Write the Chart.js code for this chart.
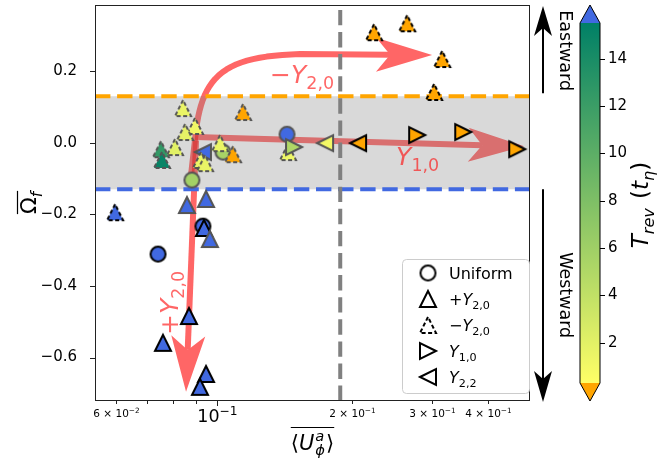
<!DOCTYPE html>
<html>
<head>
<meta charset="utf-8">
<script src="https://cdn.jsdelivr.net/npm/chart.js@4"></script>
<style>
  html, body { margin: 0; padding: 0; background: #fff; }
  canvas { display: block; }
</style>
</head>
<body>
<canvas id="c" width="665" height="466"></canvas>
<script>
// ---- axes ----
const X_MIN = 0.0538, X_MAX = 0.495;
const Y_MIN = -0.7215, Y_MAX = 0.385;
const X_TICKS = [0.06, 0.07, 0.08, 0.09, 0.1, 0.2, 0.3, 0.4];
// tick label: [mantissa or '', exponent]
const X_TICK_LABELS = { 0.06: ['6', '−2'], 0.1: ['', '−1'], 0.2: ['2', '−1'], 0.3: ['3', '−1'], 0.4: ['4', '−1'] };
const Y_TICKS = [-0.6, -0.4, -0.2, 0, 0.2];

// ---- colour scale for the reversal time ----
const T_MIN = 0.3, T_MAX = 15.5;
const CBAR_TICKS = [2, 4, 6, 8, 10, 12, 14];

// ---- reference levels ----
const BAND = 0.13;          // |Omega_f| threshold
const U_TRANSITION = 0.188; // transition velocity

// ---- runs (U = <U_phi^a>, W = Omega_f, T = T_rev; T above T_MAX: no reversal) ----
// edge: 'k' black, 'g' grey
const uniformU = [0.0742, 0.0933, 0.1433, 0.1034, 0.0882];
const uniformW = [-0.311, -0.233, 0.024, -0.026, -0.104];
const uniformT = [20, 20, 20, 5.5, 5.8];
const uniformE = ['k', 'k', 'g', 'g', 'g'];

const y22U = [0.0933, 0.1740, 0.2059];
const y22W = [-0.026, -0.001, -0.001];
const y22T = [20, 1.0, 0.2];
const y22E = ['g', 'g', 'k'];

const negY20U = [0.2234, 0.2645, 0.3162, 0.3035, 0.0843, 0.1145, 0.0896, 0.0852, 0.0809, 0.0753, 0.0757, 0.1018, 0.1088, 0.0924, 0.0943, 0.1440, 0.0596];
const negY20W = [0.309, 0.334, 0.234, 0.142, 0.097, 0.086, 0.047, 0.030, -0.012, -0.018, -0.048, -0.001, -0.032, -0.048, -0.057, -0.026, -0.194];
const negY20T = [0.2, 0.2, 0.2, 0.2, 1.5, 0.2, 1.2, 1.8, 2.0, 12.5, 15.0, 1.5, 0.2, 1.4, 1.6, 1.3, 20];
const negY20E = ['k', 'k', 'k', 'k', 'g', 'g', 'g', 'g', 'g', 'g', 'g', 'g', 'g', 'g', 'g', 'g', 'k'];

const posY20U = [0.0860, 0.0948, 0.0938, 0.0967, 0.0869, 0.0761, 0.0948, 0.0919];
const posY20W = [-0.174, -0.157, -0.238, -0.269, -0.484, -0.559, -0.646, -0.682];
const posY20T = [20, 20, 20, 20, 20, 20, 20, 20];
const posY20E = ['g', 'g', 'k', 'g', 'k', 'k', 'k', 'k'];

const y10U = [0.1485, 0.2783, 0.3521, 0.4637];
const y10W = [-0.012, 0.0215, 0.030, -0.018];
const y10T = [5.0, 0.2, 0.2, 0.2];
const y10E = ['g', 'k', 'k', 'k'];

// ---- guide arrows, in (U, Omega_f) ----
const ARROW_NEG_Y20 = [[0.0873, -0.118], [0.0901, 0.035], [0.0933, 0.189], [0.1044, 0.242], [0.1531, 0.248], [0.3004, 0.245]];
const ARROW_Y10 = [[0.0896, 0.016], [0.4806, -0.010]];
const ARROW_POS_Y20 = [[0.0901, 0.007], [0.0856, -0.696]];
const LABEL_NEG_Y20 = [0.1314, 0.168];
const LABEL_Y10 = [0.25, -0.062];
const LABEL_POS_Y20 = [0.0821, -0.537];

const FONT = "'DejaVu Sans', sans-serif";
const ARROW_RGB = '255,0,0';
const ARROW_ALPHA = 0.6;

Chart.defaults.font.family = FONT;
Chart.defaults.color = '#000';

function tColor(T) {
  if (T < T_MIN) return '#ffa500';
  if (T > T_MAX) return '#4169e1';
  const v = (T - T_MIN) / (T_MAX - T_MIN);
  const r = Math.round(255 * (1 - v));
  const g = Math.round(255 * (0.5 + 0.5 * (1 - v)));
  return `rgb(${r},${g},102)`;
}

const markerCache = {};
function marker(kind, fill, edge, dashed) {
  const key = [kind, fill, edge, dashed].join('|');
  if (markerCache[key]) return markerCache[key];
  const S = kind === 'o' ? 15 : 16, pad = 3;
  const n = S + 2 * pad;
  const c = document.createElement('canvas');
  c.width = c.height = n;
  const g = c.getContext('2d');
  shapePath(g, kind, n / 2, n / 2, S / 2);
  if (fill) { g.fillStyle = fill; g.fill(); }
  g.lineWidth = 2; g.strokeStyle = edge; g.lineJoin = 'miter';
  if (dashed) g.setLineDash([4, 2.5]);
  g.stroke();
  markerCache[key] = c;
  return c;
}
function shapePath(g, kind, m, k, h) {
  g.beginPath();
  if (kind === 'o') g.arc(m, k, h, 0, 2 * Math.PI);
  else if (kind === '^') { g.moveTo(m, k - h); g.lineTo(m - h, k + h); g.lineTo(m + h, k + h); g.closePath(); }
  else if (kind === '>') { g.moveTo(m + h, k); g.lineTo(m - h, k - h); g.lineTo(m - h, k + h); g.closePath(); }
  else if (kind === '<') { g.moveTo(m - h, k); g.lineTo(m + h, k - h); g.lineTo(m + h, k + h); g.closePath(); }
}

function series(kind, U, W, T, E, dashed, order) {
  return {
    data: U.map((u, i) => ({ x: u, y: W[i] })),
    pointStyle: (ctx) => ctx.dataIndex === undefined ? 'circle'
      : marker(kind, tColor(T[ctx.dataIndex]), E[ctx.dataIndex] === 'k' ? '#000' : '#555', dashed),
    pointRadius: 9,
    pointHoverRadius: 9,
    order
  };
}

// ---- text helpers ----
function drawRuns(g, runs, x, y, size, align) {
  const parts = [];
  let w = 0;
  for (const r of runs) {
    const s = (r.sub || r.sup) ? size * 0.7 : size;
    const f = (r.it ? 'italic ' : '') + s + 'px ' + FONT;
    g.font = f;
    const mw = g.measureText(r.t).width;
    parts.push({ t: r.t, f, x: w, dy: r.sub ? size * 0.25 : r.sup ? -size * 0.42 : 0 });
    if (!r.noadv) w += mw + (r.gap || 0);
  }
  const x0 = align === 'center' ? x - w / 2 : align === 'right' ? x - w : x;
  g.textBaseline = 'alphabetic'; g.textAlign = 'left';
  for (const p of parts) { g.font = p.f; g.fillText(p.t, x0 + p.x, y + p.dy); }
  return { x0, w };
}

function drawArrow(g, poly, L, W, N, lw) {
  const n = poly.length, tip = poly[n - 1];
  let k = n - 2;
  while (k > 0 && Math.hypot(tip[0] - poly[k][0], tip[1] - poly[k][1]) < L) k--;
  const dx = tip[0] - poly[k][0], dy = tip[1] - poly[k][1];
  const d = Math.hypot(dx, dy), ux = dx / d, uy = dy / d, nx = -uy, ny = ux;
  const bx = tip[0] - ux * L, by = tip[1] - uy * L;
  const qx = tip[0] - ux * (L - N), qy = tip[1] - uy * (L - N);
  g.lineWidth = lw; g.lineCap = 'butt'; g.lineJoin = 'round';
  g.beginPath(); g.moveTo(poly[0][0], poly[0][1]);
  for (let i = 1; i <= k; i++) g.lineTo(poly[i][0], poly[i][1]);
  g.lineTo(qx, qy); g.stroke();
  g.beginPath(); g.moveTo(tip[0], tip[1]);
  g.lineTo(bx + nx * W, by + ny * W); g.lineTo(qx, qy); g.lineTo(bx - nx * W, by - ny * W);
  g.closePath(); g.fill();
}

function toPx(x, y, p) { return [x.getPixelForValue(p[0]), y.getPixelForValue(p[1])]; }

function curvePoly(x, y, pts) {
  // start, line to P1, cubic P1-C1-C2-P2, line to tip
  const P = pts.map(p => toPx(x, y, p));
  const out = [P[0], P[1]];
  for (let i = 1; i <= 24; i++) {
    const t = i / 24, s = 1 - t;
    out.push([
      s * s * s * P[1][0] + 3 * s * s * t * P[2][0] + 3 * s * t * t * P[3][0] + t * t * t * P[4][0],
      s * s * s * P[1][1] + 3 * s * s * t * P[2][1] + 3 * s * t * t * P[3][1] + t * t * t * P[4][1]
    ]);
  }
  out.push(P[5]);
  return out;
}

function dashedLine(g, x1, y1, x2, y2, color, lw, dash) {
  g.save(); g.strokeStyle = color; g.lineWidth = lw; g.setLineDash(dash);
  g.beginPath(); g.moveTo(x1, y1); g.lineTo(x2, y2); g.stroke(); g.restore();
}

function noPadding(s) { s.paddingTop = s.paddingBottom = s.paddingLeft = s.paddingRight = 0; }

const decorations = {
  id: 'decorations',
  beforeDatasetsDraw(chart) {
    const { ctx: g, chartArea: a, scales: { x, y } } = chart;
    g.save();
    g.beginPath(); g.rect(a.left, a.top, a.right - a.left, a.bottom - a.top); g.clip();

    // guide arrows, each composited with transparency
    const polys = [
      curvePoly(x, y, ARROW_NEG_Y20),
      ARROW_Y10.map(p => toPx(x, y, p)),
      ARROW_POS_Y20.map(p => toPx(x, y, p))
    ];
    for (const poly of polys) {
      const off = document.createElement('canvas');
      off.width = chart.width; off.height = chart.height;
      const o = off.getContext('2d');
      o.strokeStyle = o.fillStyle = `rgb(${ARROW_RGB})`;
      drawArrow(o, poly, 56, 17, 14, 6);
      g.globalAlpha = ARROW_ALPHA;
      g.drawImage(off, 0, 0);
      g.globalAlpha = 1;
    }

    // translucent band |Omega_f| < BAND
    const yt = y.getPixelForValue(BAND), yb = y.getPixelForValue(-BAND);
    g.fillStyle = 'rgba(128,128,128,0.3)';
    g.fillRect(a.left, yt, a.right - a.left, yb - yt);
    dashedLine(g, a.left, yt, a.right, yt, '#ffa500', 4, [15.4, 6.7]);
    dashedLine(g, a.left, yb, a.right, yb, '#4169e1', 4, [15.4, 6.7]);

    const xv = x.getPixelForValue(U_TRANSITION);
    dashedLine(g, xv, a.bottom, xv, a.top, '#808080', 4, [15.4, 6.7]);
    g.restore();
  },
  afterDatasetsDraw(chart) {
    const { ctx: g, chartArea: a, scales: { x, y } } = chart;
    g.save();
    // arrow labels
    g.fillStyle = `rgba(${ARROW_RGB},${ARROW_ALPHA})`;
    let p = toPx(x, y, LABEL_NEG_Y20);
    drawRuns(g, [{ t: '−' }, { t: 'Y', it: true }, { t: '2,0', sub: true }], p[0], p[1], 25, 'left');
    p = toPx(x, y, LABEL_Y10);
    drawRuns(g, [{ t: 'Y', it: true }, { t: '1,0', sub: true }], p[0], p[1], 25, 'left');
    p = toPx(x, y, LABEL_POS_Y20);
    g.save(); g.translate(p[0], p[1]); g.rotate(-Math.PI / 2);
    drawRuns(g, [{ t: '+' }, { t: 'Y', it: true }, { t: '2,0', sub: true }], 0, 0, 25, 'left');
    g.restore();

    // frame
    g.strokeStyle = '#222'; g.lineWidth = 1;
    g.strokeRect(a.left + 0.5, a.top + 0.5, a.right - a.left - 1, a.bottom - a.top - 1);
    // tick marks and x tick labels (scientific notation)
    g.beginPath();
    for (const v of X_TICKS) {
      const px = Math.round(x.getPixelForValue(v)) + 0.5;
      const major = v === 0.1;
      g.moveTo(px, a.bottom); g.lineTo(px, a.bottom + (major ? 5 : 3));
      const lab = X_TICK_LABELS[v];
      if (lab) {
        g.fillStyle = '#000';
        const runs = lab[0] ? [{ t: lab[0] }, { t: ' × ' }, { t: '10' }, { t: lab[1], sup: true }]
                            : [{ t: '10' }, { t: lab[1], sup: true }];
        drawRuns(g, runs, px, major ? a.bottom + 21 : a.bottom + 16, major ? 17.5 : 10.5, 'center');
      }
    }
    for (const v of Y_TICKS) {
      const py = Math.round(y.getPixelForValue(v)) + 0.5;
      g.moveTo(a.left, py); g.lineTo(a.left - 5, py);
    }
    g.stroke();

    // legend
    const lx = a.right - 128, ly = a.bottom - 142, lw = 127, lh = 134;
    g.fillStyle = 'rgba(255,255,255,0.8)'; g.strokeStyle = '#cccccc'; g.lineWidth = 1;
    g.beginPath(); g.roundRect(lx + 0.5, ly + 0.5, lw, lh, 4); g.fill(); g.stroke();
    const entries = [
      ['o', false, [{ t: 'Uniform' }]],
      ['^', false, [{ t: '+' }, { t: 'Y', it: true }, { t: '2,0', sub: true }]],
      ['^', true, [{ t: '−' }, { t: 'Y', it: true }, { t: '2,0', sub: true }]],
      ['>', false, [{ t: 'Y', it: true }, { t: '1,0', sub: true }]],
      ['<', false, [{ t: 'Y', it: true }, { t: '2,2', sub: true }]]
    ];
    entries.forEach((e, i) => {
      const cy = ly + 14 + i * 26;
      const m = marker(e[0], null, '#000', e[1]);
      g.drawImage(m, lx + 26 - m.width / 2, cy - m.height / 2);
      g.fillStyle = '#000';
      drawRuns(g, e[2], lx + 47, cy + 6, 16, 'left');
    });

    // eastward / westward arrows
    const ax = a.right + 13;
    g.fillStyle = g.strokeStyle = '#000';
    drawArrow(g, [[ax, y.getPixelForValue(BAND) - 3], [ax, a.top + 1]], 30, 9, 8, 2);
    drawArrow(g, [[ax, y.getPixelForValue(-BAND)], [ax, a.bottom + 1]], 31, 9, 8, 2);
    g.font = '17.5px ' + FONT; g.textAlign = 'center'; g.textBaseline = 'middle';
    g.save(); g.translate(ax + 22, (a.top + y.getPixelForValue(BAND)) / 2); g.rotate(Math.PI / 2);
    g.fillText('Eastward', 0, 0); g.restore();
    g.save(); g.translate(ax + 22, (a.bottom + y.getPixelForValue(-BAND)) / 2); g.rotate(Math.PI / 2);
    g.fillText('Westward', 0, 0); g.restore();

    // colour bar
    const cl = a.right + 50, cw = 20, ext = 18;
    const ct = a.top + ext, cb = a.bottom - ext;
    const grad = g.createLinearGradient(0, cb, 0, ct);
    grad.addColorStop(0, tColor(T_MIN)); grad.addColorStop(1, tColor(T_MAX));
    g.fillStyle = grad; g.fillRect(cl, ct, cw, cb - ct);
    g.fillStyle = '#4169e1';
    g.beginPath(); g.moveTo(cl, ct); g.lineTo(cl + cw / 2, a.top); g.lineTo(cl + cw, ct); g.closePath(); g.fill();
    g.fillStyle = '#ffa500';
    g.beginPath(); g.moveTo(cl, cb); g.lineTo(cl + cw / 2, a.bottom); g.lineTo(cl + cw, cb); g.closePath(); g.fill();
    g.strokeStyle = '#000'; g.lineWidth = 1;
    g.beginPath(); g.moveTo(cl, ct); g.lineTo(cl + cw / 2, a.top); g.lineTo(cl + cw, ct);
    g.lineTo(cl + cw, cb); g.lineTo(cl + cw / 2, a.bottom); g.lineTo(cl, cb); g.closePath(); g.stroke();
    g.font = '15px ' + FONT; g.textAlign = 'left'; g.textBaseline = 'middle'; g.fillStyle = '#000';
    g.beginPath();
    for (const t of CBAR_TICKS) {
      const py = Math.round(cb - (t - T_MIN) / (T_MAX - T_MIN) * (cb - ct)) + 0.5;
      g.moveTo(cl + cw, py); g.lineTo(cl + cw + 5, py);
      g.fillText(String(t), cl + cw + 8, py);
    }
    g.stroke();
    g.save(); g.translate(a.right + 118, (a.top + a.bottom) / 2 + 2); g.rotate(-Math.PI / 2);
    drawRuns(g, [{ t: 'T', it: true }, { t: 'rev', it: true, sub: true, gap: 2 }, { t: ' (' }, { t: 't', it: true },
      { t: 'η', it: true, sub: true }, { t: ')' }], 0, 0, 23, 'center');
    g.restore();

    // axis titles
    g.fillStyle = '#000'; g.strokeStyle = '#000'; g.lineWidth = 1.2;
    g.save(); g.translate(36, (a.top + a.bottom) / 2); g.rotate(-Math.PI / 2);
    const yt = drawRuns(g, [{ t: 'Ω' }, { t: 'f', it: true, sub: true }], 0, 0, 22, 'center');
    g.beginPath(); g.moveTo(yt.x0, -18.5); g.lineTo(yt.x0 + yt.w + 1, -18.5); g.stroke();
    g.restore();
    const xt = drawRuns(g, [{ t: '⟨' }, { t: 'U', it: true, gap: 1 }, { t: 'a', it: true, sup: true, noadv: true },
      { t: 'ϕ', it: true, sub: true, gap: 1 }, { t: '⟩' }], (a.left + a.right) / 2, 450, 21, 'center');
    g.beginPath(); g.moveTo(xt.x0, 427.5); g.lineTo(xt.x0 + xt.w, 427.5); g.stroke();
    g.restore();
  }
};

new Chart(document.getElementById('c'), {
  type: 'scatter',
  data: {
    datasets: [
      series('o', uniformU, uniformW, uniformT, uniformE, false, 5),
      series('<', y22U, y22W, y22T, y22E, false, 4),
      series('^', negY20U, negY20W, negY20T, negY20E, true, 3),
      series('^', posY20U, posY20W, posY20T, posY20E, false, 2),
      series('>', y10U, y10W, y10T, y10E, false, 1)
    ]
  },
  options: {
    responsive: false,
    animation: false,
    events: [],
    layout: { autoPadding: false, padding: { left: 0, right: 135, top: 5, bottom: 0 } },
    plugins: { legend: { display: false }, tooltip: { enabled: false } },
    scales: {
      x: {
        type: 'logarithmic', min: X_MIN, max: X_MAX,
        afterFit: (s) => { s.height = 65; noPadding(s); },
        afterBuildTicks: (s) => { s.ticks = X_TICKS.map(v => ({ value: v })); },
        grid: { display: false }, border: { display: false },
        ticks: { autoSkip: false, maxRotation: 0, callback: () => '' }
      },
      y: {
        min: Y_MIN, max: Y_MAX,
        afterFit: (s) => { s.width = 95; noPadding(s); },
        afterBuildTicks: (s) => { s.ticks = Y_TICKS.map(v => ({ value: v })); },
        grid: { display: false }, border: { display: false },
        ticks: {
          padding: 10, color: '#000', font: { size: 15 },
          callback: (v) => (v < 0 ? '−' : '') + Math.abs(v).toFixed(1)
        }
      }
    }
  },
  plugins: [decorations]
});
</script>
</body>
</html>
